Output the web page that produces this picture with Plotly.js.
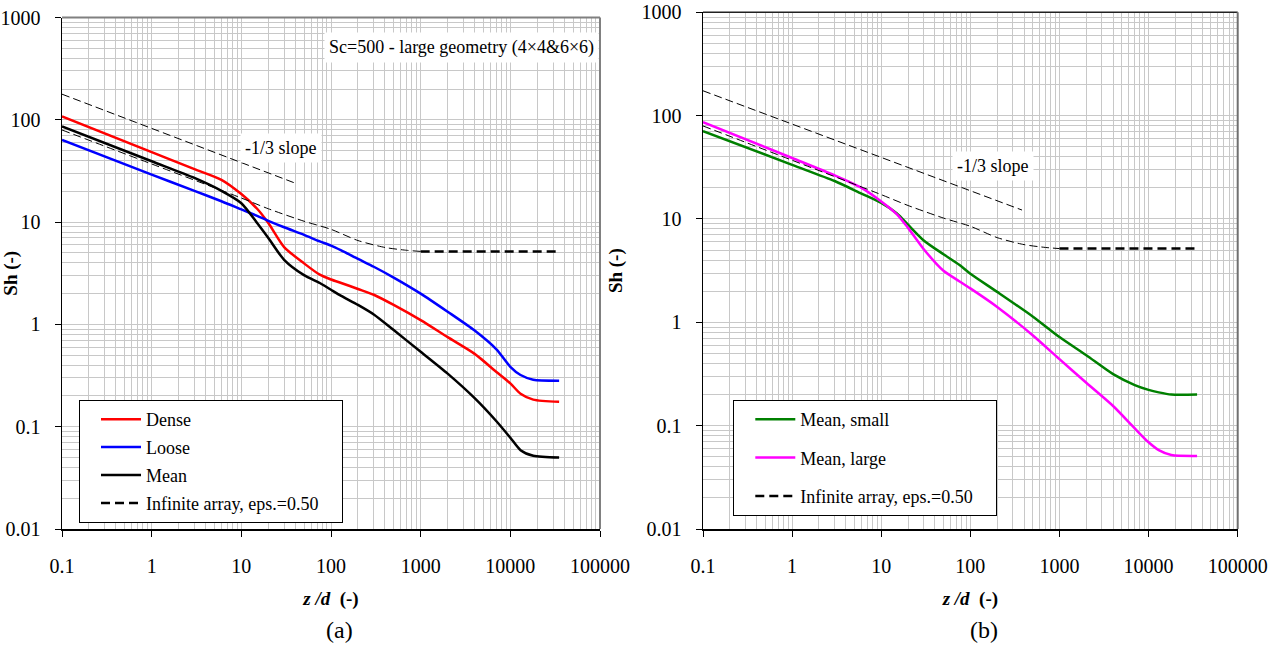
<!DOCTYPE html>
<html><head><meta charset="utf-8">
<script src="https://cdn.plot.ly/plotly-3.0.1.min.js"></script>
<style>html,body{margin:0;padding:0;background:#fff}</style>
</head><body><div id="chart" style="width:1278px;height:645px"></div>
<script>
// ---------- data (a) ----------
const zA = [0.1, 1, 3, 6, 10, 15, 20, 30, 50, 75, 100, 130, 200, 300, 500, 1000, 2000, 4000, 7000, 10000, 13000, 18000, 35000];
const shDense = [108, 48.3, 33, 25.9, 18.8, 13.5, 9.8, 5.7, 3.95, 3.06, 2.75, 2.54, 2.22, 1.95, 1.55, 1.1, 0.75, 0.515, 0.343, 0.265, 0.21, 0.184, 0.175];
const shLoose = [63.6, 29.1, 20.2, 16.0, 13.3, 11.5, 10.3, 8.9, 7.5, 6.47, 5.9, 5.3, 4.37, 3.66, 2.87, 2.0, 1.33, 0.87, 0.57, 0.385, 0.32, 0.288, 0.282];
const shMean = [86, 39.3, 27, 20.2, 15.3, 9.8, 7.0, 4.28, 3.03, 2.54, 2.18, 1.9, 1.55, 1.25, 0.88, 0.54, 0.33, 0.19, 0.113, 0.078, 0.059, 0.052, 0.050];
// ---------- data (b) ----------
const zB = [0.1, 1, 3, 6, 10, 15, 20, 30, 50, 75, 100, 200, 500, 1000, 2000, 4000, 7000, 10000, 13000, 18000, 35000];
const shMeanSmall = [70.9, 33.4, 23.3, 17.6, 14.3, 11.3, 8.8, 6.2, 4.55, 3.6, 2.95, 1.97, 1.14, 0.72, 0.48, 0.315, 0.247, 0.222, 0.21, 0.2, 0.2];
const shMeanLarge = [86.7, 38.9, 26.4, 20.0, 14.8, 11.1, 8.2, 5.1, 3.15, 2.5, 2.13, 1.41, 0.75, 0.44, 0.26, 0.155, 0.094, 0.069, 0.058, 0.052, 0.051];
// ---------- reference lines ----------
const zInf = [0.1, 1, 10, 20, 50, 100, 200, 400, 700, 1000];
const shInf = [79.5, 37, 17.2, 13.5, 10.2, 8.5, 6.6, 5.65, 5.3, 5.17];
const zInfFlat = [1000, 35000];
const shInfFlat = [5.17, 5.17];
const zSlopeA = [0.1, 40];
const shSlopeA = [178, 24];
const zSlopeB = [0.1, 380];
const shSlopeB = [174, 12.2];
// ---------- ticks ----------
const xTickVals = [0.1, 1, 10, 100, 1000, 10000, 100000];
const xTickText = ['0.1', '1', '10', '100', '1000', '10000', '100000'];
const yTickVals = [0.01, 0.1, 1, 10, 100, 1000];
const yTickText = ['0.01', '0.1', '1', '10', '100', '1000'];

const minorX = [], minorY = [];
for (let e = -1; e < 5; e++) for (let m = 2; m <= 9; m++) minorX.push(m * Math.pow(10, e));
for (let e = -2; e < 3; e++) for (let m = 2; m <= 9; m++) minorY.push(m * Math.pow(10, e));

const FONT = 'Liberation Serif';
const W = 1278, H = 645;
const PAD = '\u00a0\u00a0\u00a0\u00a0';

function tr(x, y, name, color, xa, ya, extra) {
  return Object.assign({
    x: x, y: y, name: name, type: 'scatter', mode: 'lines',
    line: {color: color, width: 2.5, shape: 'spline', smoothing: 0.7}, xaxis: xa, yaxis: ya
  }, extra || {});
}
const thinDash = {color: '#000', width: 1, dash: '8px,4px', shape: 'spline', smoothing: 0.7};
const thickDash = {color: '#000', width: 2.5, dash: '9px,5px'};

const data = [
  tr(zA, shDense, 'Dense', '#ff0000', 'x', 'y', {legend: 'legend', legendgroup: 'a1'}),
  tr(zA, shLoose, 'Loose', '#0000ff', 'x', 'y', {legend: 'legend', legendgroup: 'a2'}),
  tr(zA, shMean, 'Mean', '#000000', 'x', 'y', {legend: 'legend', legendgroup: 'a3'}),
  tr(zInf, shInf, 'inf thin', '#000000', 'x', 'y', {showlegend: false, line: thinDash}),
  tr(zInfFlat, shInfFlat, 'Infinite array, eps.=0.50' + PAD, '#000000', 'x', 'y', {legend: 'legend', legendgroup: 'a4', line: thickDash}),
  tr(zSlopeA, shSlopeA, 'slope', '#000000', 'x', 'y', {showlegend: false, line: {color: '#000', width: 1, dash: '8px,4px'}}),

  tr(zB, shMeanSmall, 'Mean, small', '#008000', 'x2', 'y2', {legend: 'legend2', legendgroup: 'b1'}),
  tr(zB, shMeanLarge, 'Mean, large', '#ff00ff', 'x2', 'y2', {legend: 'legend2', legendgroup: 'b2'}),
  tr(zInf, shInf, 'inf thin', '#000000', 'x2', 'y2', {showlegend: false, line: thinDash}),
  tr(zInfFlat, shInfFlat, 'Infinite array, eps.=0.50' + PAD, '#000000', 'x2', 'y2', {legend: 'legend2', legendgroup: 'b3', line: thickDash}),
  tr(zSlopeB, shSlopeB, 'slope', '#000000', 'x2', 'y2', {showlegend: false, line: {color: '#000', width: 1, dash: '8px,4px'}})
];

function xAxis(domain, anchor) {
  return {
    type: 'log', range: [-1, 5], domain: domain, anchor: anchor,
    tickmode: 'array', tickvals: xTickVals, ticktext: xTickText,
    showgrid: true, gridcolor: '#c8c8c8', gridwidth: 1,
    minor: {tickmode: 'array', tickvals: minorX, showgrid: true, gridcolor: '#c8c8c8', gridwidth: 1, ticks: ''},
    showline: true, linecolor: '#000', linewidth: 1.5,
    ticks: 'outside', ticklen: 6, tickcolor: '#000', tickwidth: 1,
    ticklabelstandoff: 12,
    tickfont: {family: FONT, size: 20, color: '#000'},
    zeroline: false, automargin: false,
    title: {text: '<b><i>z /d</i>  (-)</b>', font: {family: FONT, size: 19, color: '#000'}, standoff: 16}
  };
}
function yAxis(domain, anchor) {
  return {
    type: 'log', range: [-2, 3], domain: domain, anchor: anchor,
    tickmode: 'array', tickvals: yTickVals, ticktext: yTickText,
    showgrid: true, gridcolor: '#c8c8c8', gridwidth: 1,
    minor: {tickmode: 'array', tickvals: minorY, showgrid: true, gridcolor: '#c8c8c8', gridwidth: 1, ticks: ''},
    showline: true, linecolor: '#000', linewidth: 1.5,
    ticks: 'outside', ticklen: 6, tickcolor: '#000', tickwidth: 1,
    ticklabelstandoff: 10,
    tickfont: {family: FONT, size: 20, color: '#000'},
    zeroline: false, automargin: false,
    title: {text: '<b>Sh (-)</b>', font: {family: FONT, size: 19, color: '#000'}, standoff: 14}
  };
}

const yBot = (H - 529) / H;
function legendCfg(x, y, gap) {
  return {
    x: x, y: y, xanchor: 'left', yanchor: 'top',
    bgcolor: '#fff', bordercolor: '#000', borderwidth: 1,
    font: {family: FONT, size: 18, color: '#000'},
    traceorder: 'grouped', tracegroupgap: gap, itemwidth: 40,
    indentation: 16
  };
}
const ann = (x, y, text, size, bg) => Object.assign({
  xref: 'paper', yref: 'paper', x: x / W, y: 1 - y / H, xanchor: 'center', yanchor: 'middle',
  text: text, showarrow: false, font: {family: FONT, size: size, color: '#000'}
}, bg ? {bgcolor: '#fff', borderpad: 4} : {});

const layout = {
  width: W, height: H,
  margin: {l: 0, r: 0, t: 0, b: 0},
  paper_bgcolor: '#fff', plot_bgcolor: '#fff',
  font: {family: FONT, color: '#000'},
  xaxis: xAxis([62 / W, 600 / W], 'y'),
  yaxis: yAxis([yBot, (H - 17.5) / H], 'x'),
  xaxis2: xAxis([703 / W, 1237.7 / W], 'y2'),
  yaxis2: yAxis([yBot, (H - 12.3) / H], 'x2'),
  legend: legendCfg(79 / W, 1 - 400 / H, 1.5),
  legend2: legendCfg(733.3 / W, 1 - 400 / H, 12),
  shapes: [
    {type: 'line', xref: 'x domain', yref: 'y domain', x0: 0, x1: 1, y0: 1, y1: 1, line: {color: '#808080', width: 2}},
    {type: 'line', xref: 'x domain', yref: 'y domain', x0: 1, x1: 1, y0: 0, y1: 1, line: {color: '#808080', width: 2}},
    {type: 'line', xref: 'x2 domain', yref: 'y2 domain', x0: 0, x1: 1, y0: 1, y1: 1, line: {color: '#222', width: 1.5}},
    {type: 'line', xref: 'x2 domain', yref: 'y2 domain', x0: 1, x1: 1, y0: 0, y1: 1, line: {color: '#707070', width: 2}}
  ],
  annotations: [
    ann(461, 47, 'Sc=500 - large geometry (4×4&amp;6×6)', 18, true),
    ann(281, 148, '-1/3 slope', 18, true),
    ann(993, 166, '-1/3 slope', 18, true),
    ann(339, 630, '(a)', 24, false),
    ann(984, 630, '(b)', 24, false)
  ]
};

Plotly.newPlot('chart', data, layout, {displayModeBar: false, staticPlot: true});
</script>
</body></html>
